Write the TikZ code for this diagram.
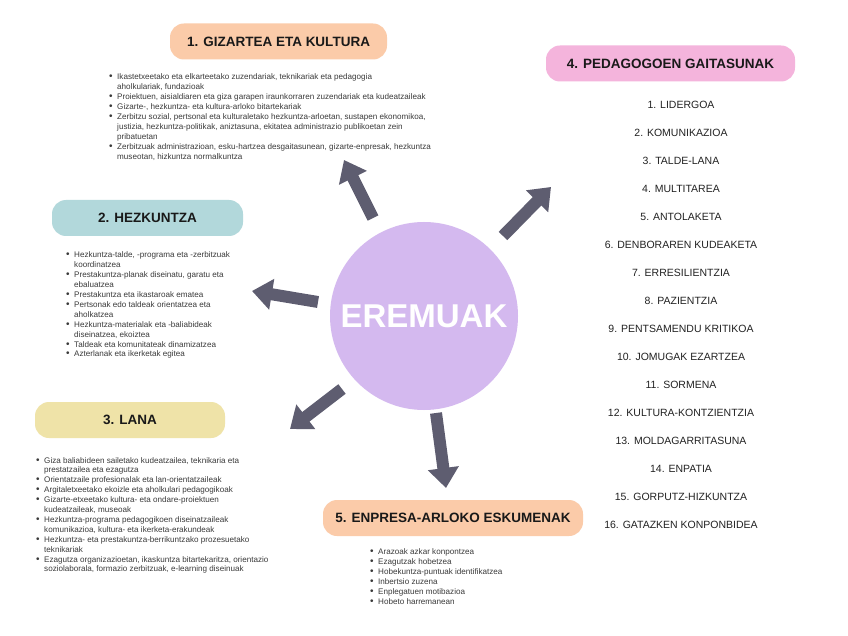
\documentclass[tikz,border=0pt]{standalone}
\usepackage{fontspec}
\setmainfont{Liberation Sans}
\usetikzlibrary{arrows.meta}
\definecolor{arrowc}{HTML}{5E5D70}
\definecolor{circc}{HTML}{D4B9EF}
\definecolor{peach}{HTML}{FBCBA9}
\definecolor{tealc}{HTML}{B2D8DB}
\definecolor{yellowc}{HTML}{EFE3A8}
\definecolor{pinkc}{HTML}{F4B4DC}
\definecolor{listtext}{HTML}{3A3A3A}
\definecolor{righttext}{HTML}{222222}
\newcommand{\bl}{{\fontsize{10}{9.9}\selectfont\textbullet}}
\begin{document}
\begin{tikzpicture}[x=1pt,y=-1pt,
  pill/.style={rounded corners=14pt, inner sep=0pt, minimum height=36pt,
    font=\fontsize{13.5}{15}\selectfont\bfseries, text=black!90},
  listbox/.style={inner sep=0pt, anchor=base west, text=listtext,
    font=\fontsize{8.1}{9.9}\selectfont},
  rightitem/.style={inner sep=0pt, text=righttext, font=\fontsize{10.5}{12}\selectfont},
  bigarrow/.style={draw=arrowc, line width=12pt, -{Triangle[length=20pt,width=30pt]}, color=arrowc}
]
\useasboundingbox (0,0) rectangle (848,636);
\fill[white] (0,0) rectangle (848,636);

% central circle
\node[circle, fill=circc, minimum size=188pt, inner sep=0pt, text=white,
  font=\fontsize{33}{38}\selectfont\bfseries] (center) at (424,316) {EREMUAK};

% pills
\node[pill, fill=peach, minimum width=217pt] (h1) at (278.5,41.5) {1. GIZARTEA ETA KULTURA};
\node[pill, fill=tealc, minimum width=191pt] (h2) at (147.5,218) {2. HEZKUNTZA};
\node[pill, fill=yellowc, minimum width=190pt] (h3) at (130,420) {3. LANA};
\node[pill, fill=pinkc, minimum width=249pt] (h4) at (670.5,63.5) {4. PEDAGOGOEN GAITASUNAK};
\node[pill, fill=peach, minimum width=260pt] (h5) at (453,518) {5. ENPRESA-ARLOKO ESKUMENAK};

% arrows
\coordinate (a1s) at (373,218); \coordinate (a1e) at (344,160);
\coordinate (a2s) at (503,236); \coordinate (a2e) at (551,187);
\coordinate (a3s) at (318,302); \coordinate (a3e) at (252,291);
\coordinate (a4s) at (342,389); \coordinate (a4e) at (290,429);
\coordinate (a5s) at (436,413); \coordinate (a5e) at (446,488);
\draw[bigarrow] (a1s) -- (a1e);
\draw[bigarrow] (a2s) -- (a2e);
\draw[bigarrow] (a3s) -- (a3e);
\draw[bigarrow] (a4s) -- (a4e);
\draw[bigarrow] (a5s) -- (a5e);

% list 1
\node[listbox] (l1) at (109,80) {\begin{tabular}[t]{@{}l@{\hspace{4.5pt}}l@{}}
\bl & Ikastetxeetako eta elkarteetako zuzendariak, teknikariak eta pedagogia\\
 & aholkulariak, fundazioak\\
\bl & Proiektuen, aisialdiaren eta giza garapen iraunkorraren zuzendariak eta kudeatzaileak\\
\bl & Gizarte-, hezkuntza- eta kultura-arloko bitartekariak\\
\bl & Zerbitzu sozial, pertsonal eta kulturaletako hezkuntza-arloetan, sustapen ekonomikoa,\\
 & justizia, hezkuntza-politikak, aniztasuna, ekitatea administrazio publikoetan zein\\
 & pribatuetan\\
\bl & Zerbitzuak administrazioan, esku-hartzea desgaitasunean, gizarte-enpresak, hezkuntza\\
 & museotan, hizkuntza normalkuntza
\end{tabular}};

% list 2
\node[listbox] (l2) at (66,258) {\begin{tabular}[t]{@{}l@{\hspace{4.5pt}}l@{}}
\bl & Hezkuntza-talde, -programa eta -zerbitzuak\\
 & koordinatzea\\
\bl & Prestakuntza-planak diseinatu, garatu eta\\
 & ebaluatzea\\
\bl & Prestakuntza eta ikastaroak ematea\\
\bl & Pertsonak edo taldeak orientatzea eta\\
 & aholkatzea\\
\bl & Hezkuntza-materialak eta -baliabideak\\
 & diseinatzea, ekoiztea\\
\bl & Taldeak eta komunitateak dinamizatzea\\
\bl & Azterlanak eta ikerketak egitea
\end{tabular}};

% list 3
\node[listbox] (l3) at (36,463) {\begin{tabular}[t]{@{}l@{\hspace{4.5pt}}l@{}}
\bl & Giza baliabideen sailetako kudeatzailea, teknikaria eta\\
 & prestatzailea eta ezagutza\\
\bl & Orientatzaile profesionalak eta lan-orientatzaileak\\
\bl & Argitaletxeetako ekoizle eta aholkulari pedagogikoak\\
\bl & Gizarte-etxeetako kultura- eta ondare-proiektuen\\
 & kudeatzaileak, museoak\\
\bl & Hezkuntza-programa pedagogikoen diseinatzaileak\\
 & komunikazioa, kultura- eta ikerketa-erakundeak\\
\bl & Hezkuntza- eta prestakuntza-berrikuntzako prozesuetako\\
 & teknikariak\\
\bl & Ezagutza organizazioetan, ikaskuntza bitartekaritza, orientazio\\
 & soziolaborala, formazio zerbitzuak, e-learning diseinuak
\end{tabular}};

% list 5
\node[listbox] (l5) at (370,554.5) {\begin{tabular}[t]{@{}l@{\hspace{4.5pt}}l@{}}
\bl & Arazoak azkar konpontzea\\
\bl & Ezagutzak hobetzea\\
\bl & Hobekuntza-puntuak identifikatzea\\
\bl & Inbertsio zuzena\\
\bl & Enplegatuen motibazioa\\
\bl & Hobeto harremanean
\end{tabular}};

% right list
\foreach \t [count=\i] in {1. LIDERGOA, 2. KOMUNIKAZIOA, 3. TALDE-LANA, 4. MULTITAREA,
  5. ANTOLAKETA, 6. DENBORAREN KUDEAKETA, 7. ERRESILIENTZIA, 8. PAZIENTZIA,
  9. PENTSAMENDU KRITIKOA, 10. JOMUGAK EZARTZEA, 11. SORMENA, 12. KULTURA-KONTZIENTZIA,
  13. MOLDAGARRITASUNA, 14. ENPATIA, 15. GORPUTZ-HIZKUNTZA, 16. GATAZKEN KONPONBIDEA}
  {\node[rightitem] (r\i) at (681,{105+28*(\i-1)}) {\t};}
\end{tikzpicture}
\end{document}
